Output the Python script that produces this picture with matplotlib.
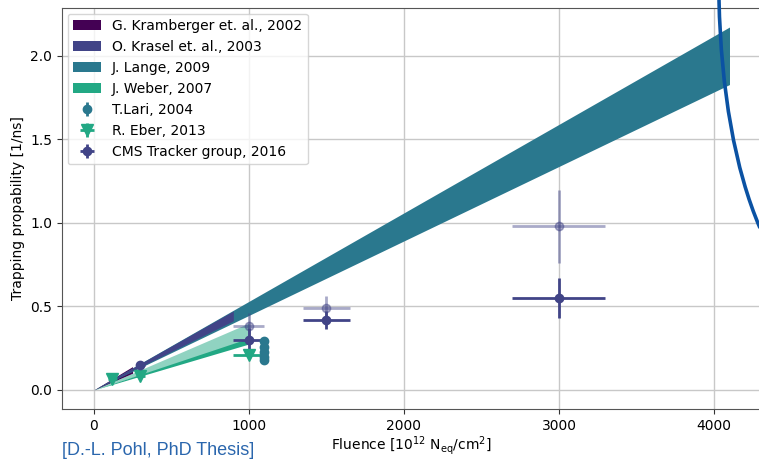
import numpy as np
import matplotlib
matplotlib.use("Agg")
import matplotlib.pyplot as plt
from matplotlib.path import Path
from matplotlib.patches import PathPatch

# trapping bands: fluence range and slope range [1/ns per 1e12 neq/cm2]
kramberger_x = [0, 250]
kramberger_k = [4.0e-4, 5.6e-4]
krasel_x = [0, 900]
krasel_k = [4.6e-4, 5.25e-4]
lange_x = [0, 4100]
lange_k = [4.46e-4, 5.3e-4]
weber_x = [0, 1000]
weber_k_wide = [3.0e-4, 4.0e-4]
weber_k_narrow = [2.75e-4, 3.1e-4]

# measurements
lari_x = [1100, 1100, 1100, 1100, 1100]
lari_y = [0.29, 0.26, 0.23, 0.20, 0.18]
lari_yerr = [0.015, 0.015, 0.015, 0.015, 0.015]

eber_x = [120, 300, 1000]
eber_y = [0.065, 0.085, 0.21]
eber_xerr = [30, 30, 100]
eber_yerr = [0.01, 0.01, 0.02]

cms_x = [300, 1000, 1500, 3000]
cms_y = [0.15, 0.30, 0.42, 0.55]
cms_xerr = [30, 100, 150, 300]
cms_yerr = [0.02, 0.07, 0.055, 0.12]

cms2_x = [1000, 1500, 3000]
cms2_y = [0.38, 0.49, 0.98]
cms2_xerr = [100, 150, 300]
cms2_yerr = [0.08, 0.07, 0.22]

c_kram = "#440154"
c_kras = "#414487"
c_lange = "#2a788e"
c_weber = "#22a884"

fig = plt.figure(figsize=(7.59, 4.59), dpi=100)
ax = fig.add_axes([0.0817, 0.109, 0.9213, 0.8736])


def band(x, k, **kw):
    x = np.asarray(x, float)
    return ax.fill_between(x, k[0] * x, k[1] * x, linewidth=0, **kw)


band(kramberger_x, kramberger_k, color=c_kram, label="G. Kramberger et. al., 2002", zorder=2)
band(lange_x, lange_k, color=c_lange, label="J. Lange, 2009", zorder=2.2)
band(krasel_x, krasel_k, color=c_kras, label="O. Krasel et. al., 2003", zorder=2.3)
band(weber_x, weber_k_wide, color=c_weber, alpha=0.5, zorder=2.4)
band(weber_x, weber_k_narrow, color=c_weber, label="J. Weber, 2007", zorder=2.5)

ax.errorbar(lari_x, lari_y, yerr=lari_yerr, fmt="o", color=c_lange, ms=6,
            elinewidth=2, label="T.Lari, 2004", zorder=3)
ax.errorbar(eber_x, eber_y, xerr=eber_xerr, yerr=eber_yerr, fmt="v", color=c_weber,
            ms=8, elinewidth=2, label="R. Eber, 2013", zorder=3)
ax.errorbar(cms2_x, cms2_y, xerr=cms2_xerr, yerr=cms2_yerr, fmt="o", color=c_kras,
            alpha=0.45, ms=6, elinewidth=2, zorder=3)
ax.errorbar(cms_x, cms_y, xerr=cms_xerr, yerr=cms_yerr, fmt="o", color=c_kras,
            ms=6, elinewidth=2, label="CMS Tracker group, 2016", zorder=3)

ax.set_xlim(-205, 4305)
ax.set_ylim(-0.114, 2.287)
ax.set_xticks([0, 1000, 2000, 3000, 4000])
ax.set_yticks([0.0, 0.5, 1.0, 1.5, 2.0])
ax.grid(True, color="#c8c8c8", linewidth=1)
ax.set_axisbelow(True)
for s in ax.spines.values():
    s.set_color("#555555")
ax.tick_params(colors="#333333", labelcolor="black", labelsize=10)
ax.set_xlabel(r"Fluence [10$^{12}$ N$_{\rm eq}$/cm$^2$]", fontsize=10, labelpad=1)
ax.set_ylabel("Trapping propability [1/ns]", fontsize=10)

h, l = ax.get_legend_handles_labels()
order = ["G. Kramberger et. al., 2002", "O. Krasel et. al., 2003", "J. Lange, 2009",
         "J. Weber, 2007", "T.Lari, 2004", "R. Eber, 2013", "CMS Tracker group, 2016"]
hd = dict(zip(l, h))
ax.legend([hd[k] for k in order], order, loc="upper left", fontsize=10,
          framealpha=0.8, edgecolor="#cccccc", borderaxespad=0.4)

# overlay from the slide: blue curve and citation
W, H = 759.0, 459.0
pts = [(719, 0), (721, 90), (735, 170), (760, 228)]
verts = [(x / W, 1 - y / H) for x, y in pts]
curve = Path(verts, [Path.MOVETO, Path.CURVE4, Path.CURVE4, Path.CURVE4])
fig.add_artist(PathPatch(curve, transform=fig.transFigure, fill=False,
                         edgecolor="#0b52a3", linewidth=2.6, zorder=10))
fig.text(62 / W, 1 - 455 / H, "[D.-L. Pohl, PhD Thesis]", color="#2a66ad",
         fontsize=13, family="Liberation Sans", va="baseline")

fig.savefig("out.png", dpi=100)
